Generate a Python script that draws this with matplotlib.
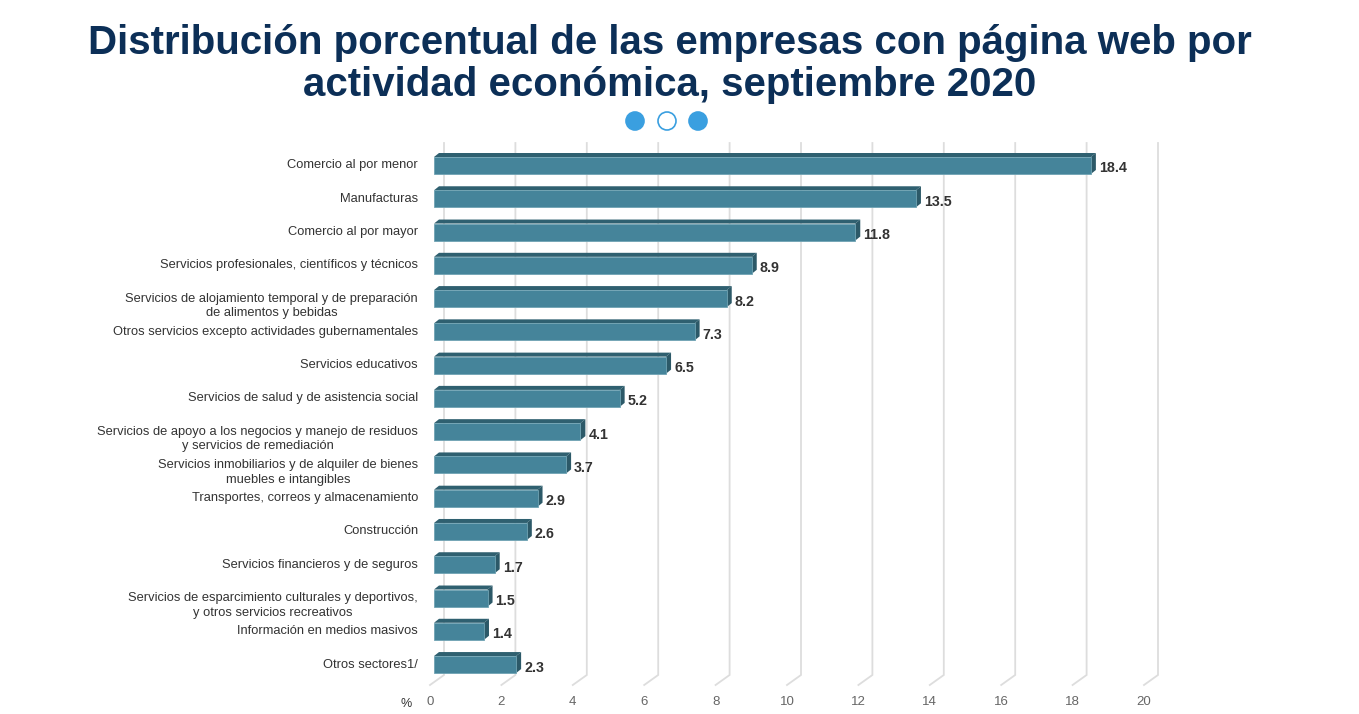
import numpy as np
import matplotlib.pyplot as plt
from matplotlib.patches import Polygon, Circle

categories = [
    "Comercio al por menor",
    "Manufacturas",
    "Comercio al por mayor",
    "Servicios profesionales, científicos y técnicos",
    "Servicios de alojamiento temporal y de preparación\nde alimentos y bebidas",
    "Otros servicios excepto actividades gubernamentales",
    "Servicios educativos",
    "Servicios de salud y de asistencia social",
    "Servicios de apoyo a los negocios y manejo de residuos\ny servicios de remediación",
    "Servicios inmobiliarios y de alquiler de bienes\nmuebles e intangibles",
    "Transportes, correos y almacenamiento",
    "Construcción",
    "Servicios financieros y de seguros",
    "Servicios de esparcimiento culturales y deportivos,\ny otros servicios recreativos",
    "Información en medios masivos",
    "Otros sectores1/",
]
values = [18.4, 13.5, 11.8, 8.9, 8.2, 7.3, 6.5, 5.2, 4.1, 3.7, 2.9, 2.6, 1.7, 1.5, 1.4, 2.3]
xticks = [0, 2, 4, 6, 8, 10, 12, 14, 16, 18, 20]

title = "Distribución porcentual de las empresas con página web por\nactividad económica, septiembre 2020"

plt.rcParams['font.family'] = ['Liberation Sans', 'DejaVu Sans']

W, H = 1359, 714
fig = plt.figure(figsize=(W / 100, H / 100), dpi=100)

# pixel geometry of the plotting area
px_x0 = 434.0          # value 0 on the bar front plane
px_unit = 35.7         # pixels per percent
px_row0 = 165.5        # centre of first bar
px_row = 33.27         # row spacing
ax_left, ax_right = 300, 1200
ax_top, ax_bot = 130, 700

ax = fig.add_axes([ax_left / W, 1 - ax_bot / H, (ax_right - ax_left) / W, (ax_bot - ax_top) / H])
ax.set_xlim((ax_left - px_x0) / px_unit, (ax_right - px_x0) / px_unit)
ax.set_ylim((ax_bot - px_row0) / px_row, (ax_top - px_row0) / px_row)
ax.axis('off')

ux = 1.0 / px_unit
uy = 1.0 / px_row

# back wall grid + floor
floor_front = (685 - px_row0) / px_row
floor_back = (675 - px_row0) / px_row
grid_top = (143 - px_row0) / px_row
for v in xticks:
    xf = v - 4 * ux
    xb = v + 10 * ux
    ax.plot([xf, xb, xb], [floor_front, floor_back, grid_top], color="#dddddd", lw=1.3, zorder=1,
            solid_joinstyle='miter')
    ax.text(xf, (702 - px_row0) / px_row, str(v), ha='center', va='center', fontsize=9.5, color="#666666")
ax.text(-4 * ux - 24 * ux, (704 - px_row0) / px_row, "%", ha='center', va='center', fontsize=9, color="#333333")

# 3D-look bars
half = 8.5 * uy
dx = 5 * ux
dy = 4 * uy
front_c = "#45849a"
top_c = "#2f6070"
side_c = "#2c5968"
for i, (cat, val) in enumerate(zip(categories, values)):
    y0, y1 = i - half, i + half
    ax.add_patch(Polygon([(0, y0), (val, y0), (val + dx, y0 - dy), (dx, y0 - dy)],
                         closed=True, facecolor=top_c, edgecolor='none', zorder=3))
    ax.add_patch(Polygon([(val, y0), (val + dx, y0 - dy), (val + dx, y1 - dy), (val, y1)],
                         closed=True, facecolor=side_c, edgecolor='none', zorder=3))
    ax.add_patch(Polygon([(0, y0), (val, y0), (val, y1), (0, y1)],
                         closed=True, facecolor=front_c, edgecolor='#6fa3b3', lw=0.6, zorder=4))
    ax.text(val + dx + 3 * ux, i + 3 * uy, f"{val:.1f}", ha='left', va='center',
            fontsize=10.3, fontweight='bold', color="#333333", zorder=5)
    ax.text(-16 * ux, i - 6 * uy, cat, ha='right', va='top', multialignment='center',
            fontsize=9.3, color="#333333", linespacing=1.3)

# title
fig.text(670 / W, 1 - 64 / H, title, ha='center', va='center', fontsize=29, fontweight='bold',
         color="#0c2f57", linespacing=1.1)

# carousel dots
dot_c = "#3a9fe0"
for j, cx in enumerate([635, 667, 698]):
    filled = j != 1
    fig.patches.append(Circle((cx / 100, (H - 121) / 100), 0.09, transform=fig.dpi_scale_trans,
                              facecolor=dot_c if filled else 'white', edgecolor=dot_c, lw=1.2))

fig.savefig("out.png", dpi=100)
